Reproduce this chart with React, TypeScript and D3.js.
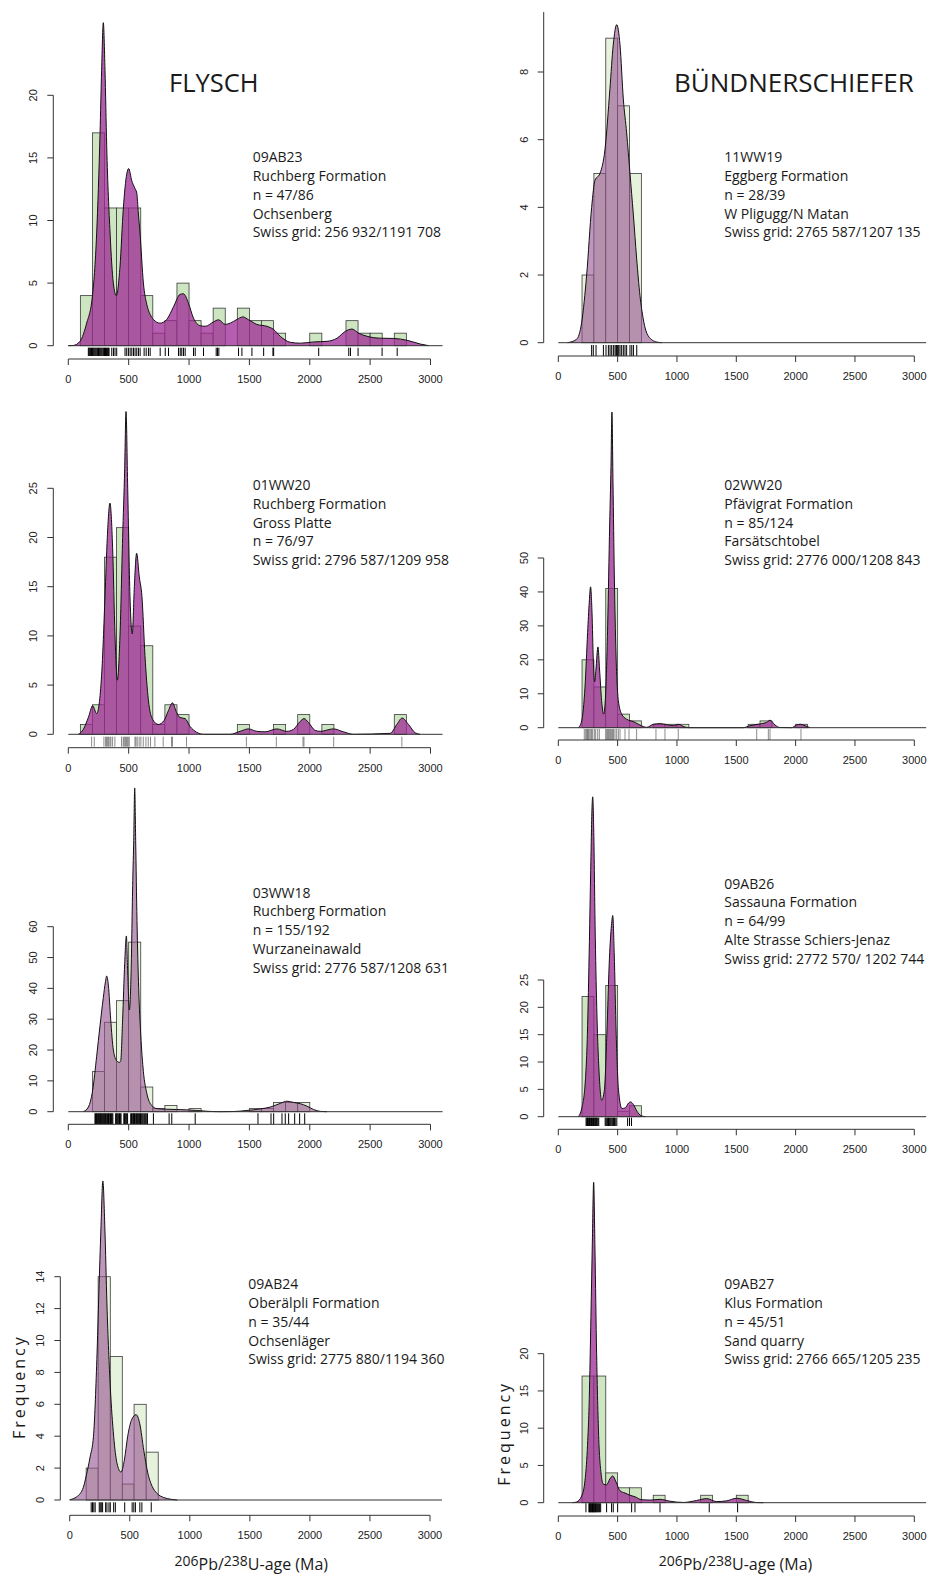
import * as d3 from "d3";
import React from "react";

// ---- shared axis values ----
const xTicks = [0, 500, 1000, 1500, 2000, 2500, 3000];
const binWidth = 100;

// ---- 09AB23 (Flysch, Ruchberg) ----
const ab23Start = 100;
const ab23Counts = [4, 17, 11, 11, 11, 4, 1, 2, 5, 2, 1, 3, 0, 3, 2, 2, 1, 0, 0, 1, 0, 0, 2, 1, 1, 0, 1];
const ab23Kde = [
  [0, 0], [42, 0.02], [97, 0.35], [152, 1.8], [199, 3.9], [235, 9], [263, 17], [276, 22], [290, 25.8],
  [304, 22], [318, 16], [346, 9], [373, 5], [398, 4.0], [428, 6.3], [456, 11], [484, 13.7], [500, 14.15],
  [525, 13.2], [550, 12.6], [567, 12.2], [580, 10.6], [594, 9], [622, 5], [650, 3.3], [678, 2.5],
  [705, 2.1], [760, 1.8], [816, 2.1], [871, 3.1], [926, 4.1], [954, 4.15], [995, 3.4], [1037, 2.2],
  [1092, 1.6], [1134, 1.55], [1203, 1.9], [1244, 2.07], [1300, 1.7], [1341, 1.8], [1397, 2.1],
  [1447, 2.3], [1493, 2.07], [1562, 1.7], [1645, 1.55], [1700, 1.3], [1756, 0.75], [1839, 0.27],
  [1922, 0.2], [2032, 0.3], [2143, 0.35], [2226, 0.6], [2295, 1.15], [2350, 1.33], [2405, 1.0],
  [2475, 0.75], [2585, 0.6], [2696, 0.58], [2806, 0.43], [2917, 0.13], [2986, 0],
];
const ab23Rug = [
  166, 172, 178, 185, 192, 200, 207, 214, 221, 228, 236, 243, 250, 257, 264, 271, 278, 286, 293, 300,
  308, 316, 324, 332, 338, 360, 374, 387, 401, 470, 484, 498, 512, 526, 540, 553, 567, 581, 595, 628,
  645, 664, 678, 761, 803, 830, 913, 927, 940, 954, 968, 1037, 1051, 1120, 1225, 1236, 1247, 1410,
  1438, 1521, 1618, 1695, 1701, 2074, 2323, 2337, 2400, 2599, 2724,
];
const ab23Text = ["09AB23", "Ruchberg Formation", "n = 47/86", "Ochsenberg", "Swiss grid: 256 932/1191 708"];

// ---- 11WW19 (Bündnerschiefer, Eggberg) ----
const ww19Start = 200;
const ww19Counts = [2, 5, 9, 7, 5];
const ww19Kde = [
  [79, 0], [154, 0.1], [197, 0.6], [239, 2.0], [281, 4.0], [309, 4.8], [351, 5.0], [393, 5.7],
  [435, 7.5], [463, 8.8], [492, 9.4], [520, 8.8], [548, 7.2], [576, 6.2], [604, 5.0], [632, 3.8],
  [660, 2.5], [688, 1.4], [716, 0.7], [758, 0.2], [829, 0.02], [871, 0],
];
const ww19Rug = [281, 295, 318, 380, 402, 422, 436, 450, 464, 478, 487, 492, 500, 509, 520, 534, 548, 562, 576, 604, 619, 633, 661];
const ww19Text = ["11WW19", "Eggberg Formation", "n = 28/39", "W Pligugg/N Matan", "Swiss grid: 2765 587/1207 135"];

// ---- 01WW20 (Flysch, Ruchberg) ----
const ww20aStart = 100;
const ww20aCounts = [1, 3, 18, 21, 11, 9, 1, 3, 2, 0, 0, 0, 0, 1, 0, 0, 1, 0, 2, 0, 1, 0, 0, 0, 0, 0, 2];
const ww20aKde = [
  [83, 0], [124, 0.5], [166, 1.7], [202, 2.9], [235, 2.1], [276, 6], [304, 14], [323, 20], [345, 23.5],
  [367, 19], [387, 10], [406, 5.5], [428, 10], [450, 20], [467, 27], [478, 32.8], [492, 25], [511, 14],
  [530, 10.2], [547, 15], [566, 18.4], [588, 16], [610, 14], [635, 8], [663, 3.5], [699, 1.5],
  [746, 1.0], [793, 1.4], [829, 2.4], [862, 3.2], [898, 2.2], [925, 1.7], [967, 1.6], [1008, 0.8],
  [1064, 0.2], [1119, 0], [1340, 0], [1423, 0.3], [1492, 0.55], [1561, 0.3], [1630, 0.25],
  [1727, 0.55], [1809, 0.3], [1865, 0.5], [1920, 1.3], [1953, 1.6], [1989, 1.2], [2044, 0.4],
  [2086, 0.3], [2196, 0.55], [2279, 0.25], [2362, 0], [2666, 0.1], [2721, 1.0], [2765, 1.65],
  [2818, 1.0], [2873, 0.15], [2914, 0],
];
const ww20aRug = [
  193, 215, 295, 309, 317, 326, 334, 345, 353, 367, 386, 441, 455, 463, 472, 480, 488, 496, 505, 552,
  560, 571, 587, 601, 621, 643, 662, 681, 717, 786, 855, 863, 979, 1475, 1723, 1944, 1952, 2198, 2763,
];
const ww20aText = ["01WW20", "Ruchberg Formation", "Gross Platte", "n = 76/97", "Swiss grid: 2796 587/1209 958"];

// ---- 02WW20 (Bündnerschiefer, Pfävigrat) ----
const ww20bStart = 200;
const ww20bCounts = [20, 12, 41, 4, 2, 0, 1, 1, 1, 0, 0, 0, 0, 0, 1, 2, 0, 0, 1];
const ww20bKde = [
  [169, 0], [197, 2], [225, 12], [247, 28], [261, 37], [272, 41.5], [284, 34], [295, 20], [306, 13.5],
  [317, 17], [334, 23.8], [348, 17], [365, 8], [382, 4], [399, 10], [416, 30], [433, 60], [444, 77],
  [452, 93], [461, 72], [472, 45], [486, 22], [506, 8], [534, 4], [576, 2.5], [632, 1.8], [688, 0.8],
  [744, 0.1], [801, 1.0], [857, 1.2], [913, 0.9], [969, 0.6], [1011, 1.0], [1067, 0.2], [1110, 0],
  [1559, 0], [1615, 0.6], [1699, 1.1], [1756, 1.6], [1784, 2.2], [1826, 0.8], [1868, 0.05],
  [1966, 0], [2008, 0.8], [2042, 1.0], [2079, 0.6], [2121, 0],
];
const ww20bRug = [
  219, 231, 239, 247, 253, 261, 273, 281, 290, 304, 315, 332, 346, 399, 408, 416, 424, 433, 441, 450,
  458, 466, 478, 492, 506, 520, 562, 596, 660, 823, 899, 1011, 1672, 1770, 1784, 2045,
];
const ww20bText = ["02WW20", "Pfävigrat Formation", "n = 85/124", "Farsätschtobel", "Swiss grid: 2776 000/1208 843"];

// ---- 03WW18 (Flysch, Ruchberg) ----
const ww18Start = 200;
const ww18Counts = [13, 29, 36, 55, 8, 1, 2, 0, 1, 0, 0, 0, 0, 1, 1, 3, 3, 3];
const ww18Kde = [
  [124, 0], [166, 1.5], [202, 7], [235, 18], [263, 28], [290, 37], [307, 42], [318, 44], [332, 41],
  [351, 30], [373, 20], [401, 16.5], [423, 16], [434, 16.5], [450, 30], [467, 48], [481, 57],
  [492, 45], [506, 33], [520, 45], [534, 75], [542, 88], [550, 105], [558, 88], [569, 62], [583, 40],
  [600, 25], [622, 13], [650, 6], [691, 2], [733, 1], [816, 0.8], [898, 0.7], [981, 0.6], [1064, 0.4],
  [1147, 0.15], [1258, 0], [1369, 0.05], [1479, 0.4], [1590, 0.9], [1673, 1.5], [1756, 2.7],
  [1811, 3.4], [1866, 3.0], [1921, 2.6], [1977, 1.8], [2032, 0.7], [2087, 0.1], [2143, 0],
];
const ww18Rug = [
  221, 226, 233, 238, 244, 249, 256, 261, 266, 273, 278, 285, 290, 297, 302, 309, 314, 321, 326, 333,
  338, 345, 350, 357, 363, 369, 392, 398, 405, 411, 418, 424, 431, 437, 460, 466, 472, 479, 485, 491,
  517, 523, 529, 536, 541, 548, 553, 560, 566, 572, 579, 585, 591, 598, 604, 611, 618, 626, 633, 641,
  650, 656, 705, 835, 857, 1051, 1571, 1679, 1701, 1770, 1797, 1825, 1875, 1916, 1958,
];
const ww18Text = ["03WW18", "Ruchberg Formation", "n = 155/192", "Wurzaneinawald", "Swiss grid: 2776 587/1208 631"];

// ---- 09AB26 (Bündnerschiefer, Sassauna) ----
const ab26Start = 200;
const ab26Counts = [22, 15, 24, 1, 2];
const ab26Kde = [
  [169, 0], [197, 1.5], [226, 6], [245, 15], [262, 32], [273, 45], [285, 57], [290, 58.5], [299, 52],
  [310, 35], [324, 20], [344, 8], [366, 3], [389, 5], [409, 15], [431, 29], [448, 35], [459, 36.8],
  [471, 30], [488, 15], [507, 5], [536, 1.5], [564, 1.6], [592, 2.5], [609, 2.7], [634, 2.2],
  [663, 1.0], [696, 0.2], [733, 0],
];
const ab26Rug = [
  234, 240, 246, 252, 257, 263, 268, 274, 280, 286, 291, 297, 303, 309, 315, 321, 327, 334, 341,
  395, 402, 409, 416, 423, 430, 437, 444, 452, 459, 466, 473, 480, 493, 584, 600, 617,
];
const ab26Text = ["09AB26", "Sassauna Formation", "n = 64/99", "Alte Strasse Schiers-Jenaz", "Swiss grid: 2772 570/ 1202 744"];

// ---- 09AB24 (Flysch, Oberälpli) ----
const ab24Breaks = [137, 237, 338, 438, 536, 637, 737];
const ab24Counts = [2, 14, 9, 1, 6, 3];
const ab24Kde = [
  [0, 0.02], [59, 0.2], [114, 0.8], [137, 1.5], [170, 2.7], [198, 4], [226, 8.8], [243, 13], [260, 17],
  [276, 20], [293, 17], [310, 12.3], [338, 7.1], [366, 4], [394, 2.3], [427, 1.75], [455, 2.5],
  [483, 4.0], [514, 5.0], [553, 5.35], [583, 4.8], [617, 3.1], [650, 1.7], [687, 0.85], [729, 0.4],
  [784, 0.15], [840, 0.05], [896, 0],
];
const ab24Rug = [179, 190, 201, 212, 246, 254, 263, 274, 299, 310, 327, 338, 366, 380, 458, 520, 534, 547, 584, 601, 679];
const ab24Text = ["09AB24", "Oberälpli Formation", "n = 35/44", "Ochsenläger", "Swiss grid: 2775 880/1194 360"];

// ---- 09AB27 (Bündnerschiefer, Klus) ----
const ab27Start = 200;
const ab27Counts = [17, 17, 4, 2, 2, 0, 1, 0, 0, 0, 1, 0, 0, 1];
const ab27Kde = [
  [120, 0], [154, 0.1], [197, 0.9], [225, 3], [244, 7], [261, 14], [275, 25], [287, 35], [298, 43],
  [309, 34], [323, 20], [340, 9], [360, 4], [379, 2.5], [407, 2.4], [435, 3.2], [458, 3.6], [486, 2.8],
  [520, 1.6], [562, 1.3], [604, 1.0], [646, 0.8], [702, 0.4], [772, 0.35], [857, 0.45], [941, 0.2],
  [1053, 0.03], [1166, 0.3], [1250, 0.55], [1334, 0.15], [1419, 0.25], [1503, 0.6], [1587, 0.3],
  [1671, 0.02], [1728, 0],
];
const ab27Rug = [
  233, 258, 263, 268, 273, 278, 283, 288, 293, 298, 303, 308, 314, 320, 326, 332, 340, 348, 357,
  407, 449, 463, 500, 618, 646, 857, 1272, 1511,
];
const ab27Text = ["09AB27", "Klus Formation", "n = 45/51", "Sand quarry", "Swiss grid: 2766 665/1205 235"];

const titles = ["FLYSCH", "BÜNDNERSCHIEFER"];

const strong = { bar: "#cde6c1", kde: "#9c2894", op: 0.75 };
const pale = { bar: "#e6f2db", kde: "#94508f", op: 0.6 };

const left = { x0: 68.3, x3000: 430.5, yAxisX: 53.3, textX: 252.7 };
const right = { x0: 558.3, x3000: 914.3, yAxisX: 543.7, textX: 724.3 };

const bins = (start, counts) => counts.map((c, i) => [start + i * binWidth, start + (i + 1) * binWidth, c]);
const binsFromBreaks = (br, counts) => counts.map((c, i) => [br[i], br[i + 1], c]);

const panels = [
  { col: left, pal: strong, hist: bins(ab23Start, ab23Counts), kde: ab23Kde, rug: ab23Rug, text: ab23Text,
    baseY: 345.7, ref: 20, refY: 95.3, step: 5, yMax: 20, rug0: 347.7, rug1: 356, axisY: 359, textY: 162.3 },
  { col: right, pal: pale, hist: bins(ww19Start, ww19Counts), kde: ww19Kde, rug: ww19Rug, text: ww19Text,
    baseY: 342.7, ref: 8, refY: 72, step: 2, yMax: 8, axisTop: 9.77, rug0: 345, rug1: 356, axisY: 356, textY: 162.3 },
  { col: left, pal: strong, hist: bins(ww20aStart, ww20aCounts), kde: ww20aKde, rug: ww20aRug, text: ww20aText,
    baseY: 734.3, ref: 25, refY: 488.3, step: 5, yMax: 25, rug0: 736.7, rug1: 746.7, axisY: 747.7, textY: 490, thinRug: true },
  { col: right, pal: strong, hist: bins(ww20bStart, ww20bCounts), kde: ww20bKde, rug: ww20bRug, text: ww20bText,
    baseY: 727.7, ref: 50, refY: 558, step: 10, yMax: 50, rug0: 729, rug1: 740, axisY: 740, textY: 490, thinRug: true },
  { col: left, pal: pale, hist: bins(ww18Start, ww18Counts), kde: ww18Kde, rug: ww18Rug, text: ww18Text,
    baseY: 1111.7, ref: 60, refY: 926.7, step: 10, yMax: 60, rug0: 1113.3, rug1: 1124, axisY: 1124.3, textY: 897.7 },
  { col: right, pal: strong, hist: bins(ab26Start, ab26Counts), kde: ab26Kde, rug: ab26Rug, text: ab26Text,
    baseY: 1116.7, ref: 25, refY: 980, step: 5, yMax: 25, rug0: 1117.7, rug1: 1126, axisY: 1129.3, textY: 888.7 },
  { col: { x0: 69.7, x3000: 430, yAxisX: 60.3, textX: 248.3 }, pal: pale, hist: binsFromBreaks(ab24Breaks, ab24Counts),
    kde: ab24Kde, rug: ab24Rug, text: ab24Text, baseY: 1500, ref: 14, refY: 1276.7, step: 2, yMax: 14,
    rug0: 1502.3, rug1: 1512.3, axisY: 1515.3, textY: 1289.3, freqX: 18.8, freqY: 1386.7, labelX: 251.3 },
  { col: right, pal: strong, hist: bins(ab27Start, ab27Counts), kde: ab27Kde, rug: ab27Rug, text: ab27Text,
    baseY: 1502.7, ref: 20, refY: 1353.7, step: 5, yMax: 20, rug0: 1503.3, rug1: 1512.3, axisY: 1516, textY: 1289.3,
    freqX: 504, freqY: 1433.3, labelX: 735.5 },
];

const tickFont = { fontFamily: "'Liberation Sans', Arial, sans-serif", fontSize: 11, fill: "#222" };
const textFont = { fontFamily: "'Open Sans', sans-serif", fill: "#1a1a1a" };

function Panel({ p }) {
  const x = d3.scaleLinear().domain([0, 3000]).range([p.col.x0, p.col.x3000]);
  const y = d3.scaleLinear().domain([0, p.ref]).range([p.baseY, p.refY]);
  const area = d3.area().x(d => x(d[0])).y0(y(0)).y1(d => y(d[1])).curve(d3.curveMonotoneX);
  const line = d3.line().x(d => x(d[0])).y(d => y(d[1])).curve(d3.curveMonotoneX);
  const yTicks = d3.range(0, p.yMax + 0.001, p.step);
  const ax = p.col.yAxisX;
  return (
    <g>
      {p.hist.map(([a, b, c], i) => (
        <rect key={i} x={x(a)} width={x(b) - x(a)} y={y(c)} height={y(0) - y(c)}
          fill={p.pal.bar} stroke="#3a3a3a" strokeWidth={0.8} />
      ))}
      <path d={area(p.kde)} fill={p.pal.kde} fillOpacity={p.pal.op} />
      <path d={line(p.kde)} fill="none" stroke="#111" strokeWidth={1} />
      <line x1={x(0)} x2={x(3100)} y1={y(0)} y2={y(0)} stroke="#333" strokeWidth={1} />
      {p.rug.map((r, i) => (
        <line key={i} x1={x(r)} x2={x(r)} y1={p.rug0} y2={p.rug1} stroke="#000"
          strokeWidth={p.thinRug ? 0.7 : 1} strokeOpacity={p.thinRug ? 0.65 : 1} />
      ))}
      {/* y axis */}
      <line x1={ax} x2={ax} y1={y(0)} y2={y(p.axisTop ?? p.yMax)} stroke="#333" />
      {yTicks.map(t => (
        <g key={t}>
          <line x1={ax - 6} x2={ax} y1={y(t)} y2={y(t)} stroke="#333" />
          <text {...tickFont} textAnchor="middle" transform={`translate(${ax - 16},${y(t)}) rotate(-90)`}>{t}</text>
        </g>
      ))}
      {/* x axis */}
      <line x1={x(0)} x2={x(3000)} y1={p.axisY} y2={p.axisY} stroke="#333" />
      {xTicks.map(t => (
        <g key={t}>
          <line x1={x(t)} x2={x(t)} y1={p.axisY} y2={p.axisY + 6} stroke="#333" />
          <text {...tickFont} x={x(t)} y={p.axisY + 24} textAnchor="middle">{t}</text>
        </g>
      ))}
      {p.text.map((s, i) => (
        <text key={i} {...textFont} fontSize={14} x={p.col.textX} y={p.textY + i * 18.75}>{s}</text>
      ))}
      {p.freqX != null && (
        <text {...textFont} fontSize={16} letterSpacing={3} textAnchor="middle"
          transform={`translate(${p.freqX + 6},${p.freqY}) rotate(-90)`}>Frequency</text>
      )}
      {p.labelX != null && (
        <text {...textFont} fontSize={16} textAnchor="middle" x={p.labelX} y={1570}>
          <tspan fontSize={14} dy={-4.5}>206</tspan>
          <tspan dy={4.5}>Pb/</tspan>
          <tspan fontSize={14} dy={-4.5}>238</tspan>
          <tspan dy={4.5}>U-age (Ma)</tspan>
        </text>
      )}
    </g>
  );
}

export default function App() {
  return (
    <svg width={931} height={1577} style={{ position: "absolute", left: 0, top: 0, background: "#fff" }}>
      <rect width={931} height={1577} fill="#fff" />
      {panels.map((p, i) => <Panel key={i} p={p} />)}
      <text {...textFont} fontSize={25.5} x={169} y={91.7}>{titles[0]}</text>
      <text {...textFont} fontSize={26} x={674} y={92}>{titles[1]}</text>
    </svg>
  );
}
